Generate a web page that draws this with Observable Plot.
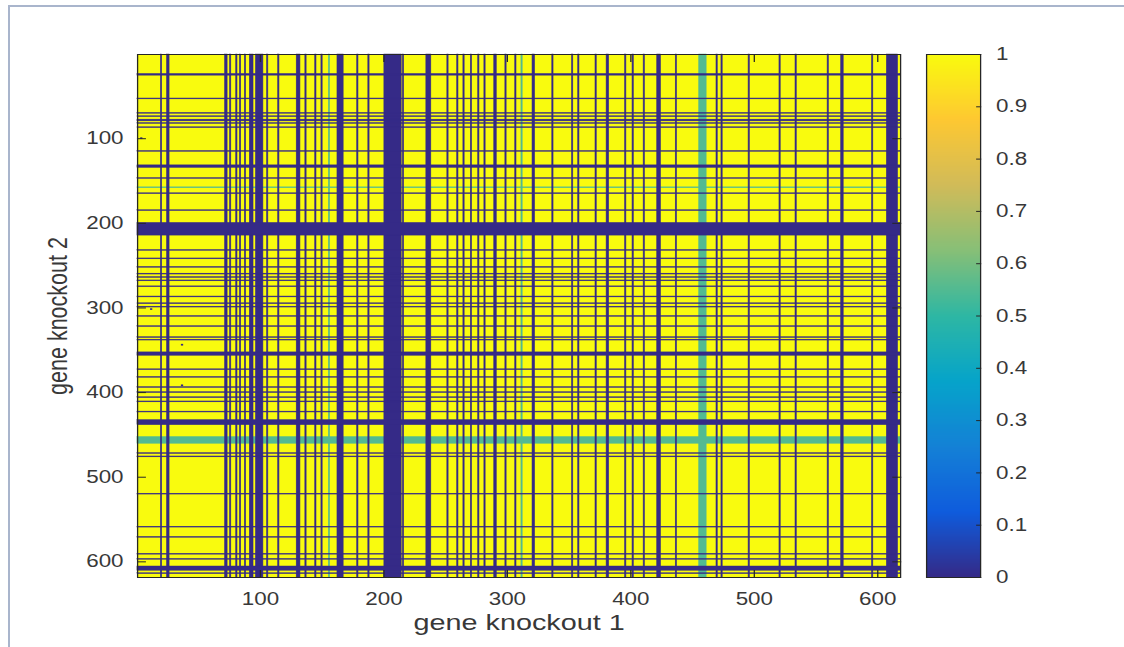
<!DOCTYPE html>
<html>
<head>
<meta charset="utf-8">
<script src="https://cdn.jsdelivr.net/npm/d3@7"></script>
<script src="https://cdn.jsdelivr.net/npm/@observablehq/plot@0.6"></script>
<style>
  html, body { margin: 0; padding: 0; background: #fff; width: 1124px; height: 647px; overflow: hidden; }
  #page { position: absolute; left: 8px; top: 5px; right: -4px; bottom: -4px;
          border-top: 2px solid #a9b5cc; border-left: 2px solid #a9b5cc; }
  /* the figure is drawn in narrow units and widened horizontally */
  #stage { position: absolute; left: 0; top: 0; width: 878px; height: 647px;
           transform: scaleX(1.28); transform-origin: 0 0; }
  #stage svg { position: absolute; left: 0; top: 0; max-width: none; }
</style>
</head>
<body>
<div id="page"></div>
<div id="stage"></div>
<script>
// ---- data: double-knockout growth matrix (genes 1..N on each axis) ----
const N = 618;

// lethal knockouts of gene 1 (columns), as [first, last] index bands
const zeroColBands = [
  [20,20],[25,26],[72,73],[76,76],[81,81],[84,84],[88,88],[92,94],[97,102],[106,106],
  [115,115],[130,132],[137,137],[145,145],[150,150],[163,167],[179,179],[188,188],
  [201,214],[216,216],[235,238],[252,252],[260,260],[265,265],[271,271],[277,277],
  [282,282],[290,291],[299,299],[307,307],[321,322],[337,337],[353,353],[358,358],
  [372,372],[381,382],[396,396],[402,402],[411,411],[422,424],[437,437],[470,470],
  [474,474],[496,496],[521,521],[534,534],[560,560],[571,572],[596,596],[608,616]
];
// partial-growth knockouts of gene 1
const halfColBands = [[156,156],[312,312],[456,461]];

// lethal knockouts of gene 2 (rows)
const zeroRowBands = [
  [24,25],[53,53],[70,70],[74,74],[78,79],[82,82],[87,87],[115,115],[132,134],[147,147],
  [165,165],[185,185],[200,214],[232,232],[242,242],[252,252],[260,260],[264,264],
  [268,268],[275,275],[287,287],[295,295],[299,299],[310,310],[322,322],[335,335],
  [338,338],[353,356],[373,373],[382,382],[394,394],[400,400],[406,406],[411,411],
  [423,423],[433,438],[472,472],[476,476],[520,520],[559,559],[571,571],[591,591],
  [597,597],[606,610],[614,614]
];
// partial-growth knockouts of gene 2
const halfRowBands = [[158,158],[453,460]];

// growth levels
const fullGrowth = 1;
const partialGrowth = 0.55;
const noGrowth = 0;

// isolated lethal pairs [gene 1, gene 2]
const zeroCells = [[4,100],[12,302],[37,344],[37,392]];

// axis ticks
const xTicks = [100, 200, 300, 400, 500, 600];
const yTicks = [100, 200, 300, 400, 500, 600];
const barTicks = [0, 0.1, 0.2, 0.3, 0.4, 0.5, 0.6, 0.7, 0.8, 0.9, 1];

// parula colormap stops
const parulaStops = [0, 0.125, 0.25, 0.375, 0.5, 0.625, 0.75, 0.875, 1];
const parulaColors = ["#352a87", "#0f5cdd", "#1481d6", "#06a4ca", "#2eb7a4",
                      "#87bf77", "#d1bb59", "#fec832", "#f9fb0e"];

// ---- records for the marks ----
const bands = (list, value) => list.map(([a, b]) => ({ a, b, value }));
const fullGrid = [{ value: fullGrowth }];
const halfCols = bands(halfColBands, partialGrowth);
const halfRows = bands(halfRowBands, partialGrowth);
const zeroCols = bands(zeroColBands, noGrowth);
const zeroRows = bands(zeroRowBands, noGrowth);
const deadPairs = zeroCells.map(([c, r]) => ({ c, r, value: noGrowth }));

// ---- layout (in un-widened units) ----
const W = 878, H = 647;
const frameLeft = 107, frameRight = 703.1;
const barLeft = 723.4, barRight = 765.6;
const mTop = 54, mBottom = 70;

const colorScale = { type: "linear", domain: parulaStops, range: parulaColors };
const baseStyle = {
  background: "none",
  fontFamily: "'Liberation Sans', Arial, Helvetica, sans-serif",
  fontSize: "17.5px",
  color: "#383838",
  overflow: "visible"
};
const lo = 0.5, hi = N + 0.5;
const edge = 0.45; // slight stroke so single-gene lines stay visible

// column / row stripes; lethal stripes drawn last so they win at crossings
const colRect = (data) => Plot.rect(data, {
  x1: d => d.a - 0.5, x2: d => d.b + 0.5, y1: lo, y2: hi,
  fill: d => d.value, stroke: d => d.value, strokeWidth: edge
});
const rowRect = (data) => Plot.rect(data, {
  x1: lo, x2: hi, y1: d => d.a - 0.5, y2: d => d.b + 0.5,
  fill: d => d.value, stroke: d => d.value, strokeWidth: edge
});

const heat = Plot.plot({
  width: W, height: H,
  marginLeft: frameLeft, marginRight: W - frameRight,
  marginTop: mTop, marginBottom: mBottom,
  style: baseStyle,
  x: { domain: [lo, hi] },
  y: { domain: [lo, hi], reverse: true },
  color: colorScale,
  marks: [
    Plot.rect(fullGrid, { x1: lo, x2: hi, y1: lo, y2: hi, fill: d => d.value }),
    colRect(halfCols),
    rowRect(halfRows),
    colRect(zeroCols),
    rowRect(zeroRows),
    Plot.rect(deadPairs, {
      x1: d => d.c - 0.5, x2: d => d.c + 0.5, y1: d => d.r - 0.5, y2: d => d.r + 0.5,
      fill: d => d.value, stroke: d => d.value, strokeWidth: 0.8
    }),
    Plot.frame({ stroke: "#262626" }),
    Plot.axisX(xTicks, { anchor: "bottom", tickSize: -7, tickPadding: 22, label: null, stroke: "#262626" }),
    Plot.axisX(xTicks, { anchor: "top", tickSize: -7, tickFormat: () => "", label: null, stroke: "#262626" }),
    Plot.axisY(yTicks, { anchor: "left", tickSize: -7, tickPadding: 18, label: null, stroke: "#262626" }),
    Plot.axisY(yTicks, { anchor: "right", tickSize: -7, tickFormat: () => "", label: null, stroke: "#262626" }),
    Plot.text(["gene knockout 1"], {
      text: d => d, frameAnchor: "bottom", textAnchor: "middle", lineAnchor: "middle",
      dy: 45, fontSize: 22.5
    }),
    Plot.text(["gene knockout 2"], {
      text: d => d, frameAnchor: "left", textAnchor: "middle", lineAnchor: "middle",
      dx: -62, rotate: -90, fontSize: 21.5
    })
  ]
});

const bar = Plot.plot({
  width: W, height: H,
  marginLeft: barLeft, marginRight: W - barRight,
  marginTop: mTop, marginBottom: mBottom,
  style: baseStyle,
  x: { domain: [0, 1], axis: null },
  y: { domain: [0, 1] },
  color: colorScale,
  marks: [
    Plot.raster({ x1: 0, x2: 1, y1: 0, y2: 1, width: 1, height: 256, fill: (x, y) => y }),
    Plot.frame({ stroke: "#262626" }),
    Plot.axisY(barTicks, { anchor: "right", tickSize: -4, tickPadding: 16, tickFormat: d => String(d), label: null, stroke: "#262626" })
  ]
});

const stage = document.getElementById("stage");
stage.appendChild(heat);
stage.appendChild(bar);
</script>
</body>
</html>
